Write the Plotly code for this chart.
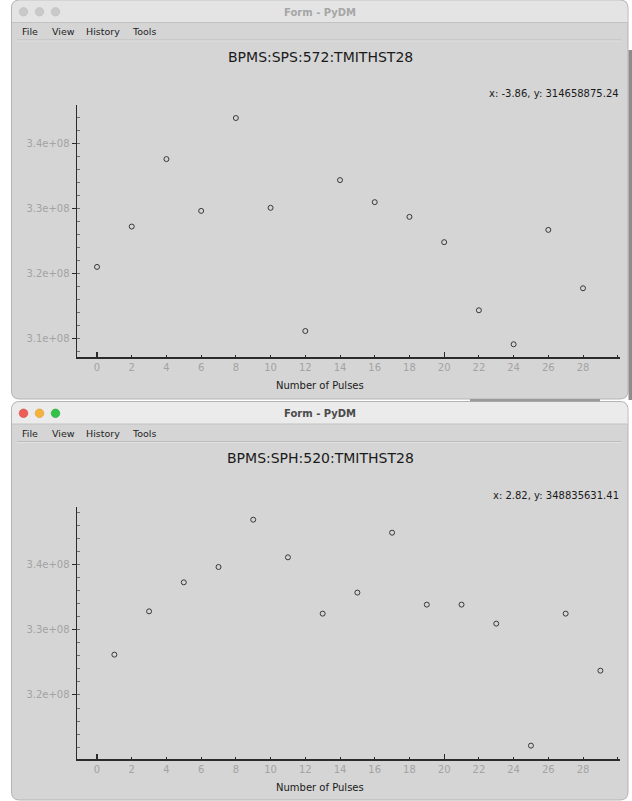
import plotly.graph_objects as go

# ---------------- data ----------------
pulses_sps = [0, 2, 4, 6, 8, 10, 12, 14, 16, 18, 20, 22, 24, 26, 28]
tmit_sps = [3.2097e8, 3.2717e8, 3.3754e8, 3.2958e8, 3.4385e8, 3.3005e8, 3.1112e8,
            3.3431e8, 3.3092e8, 3.2866e8, 3.2477e8, 3.1431e8, 3.0908e8, 3.2666e8, 3.1769e8]

pulses_sph = [1, 3, 5, 7, 9, 11, 13, 15, 17, 19, 21, 23, 25, 27, 29]
tmit_sph = [3.2617e8, 3.3280e8, 3.3724e8, 3.3959e8, 3.4683e8, 3.4107e8, 3.3245e8,
            3.3567e8, 3.4484e8, 3.3383e8, 3.3383e8, 3.3092e8, 3.1224e8, 3.3245e8, 3.2372e8]

x_tickvals = [0, 2, 4, 6, 8, 10, 12, 14, 16, 18, 20, 22, 24, 26, 28, 30]
x_ticktext = ["0", "2", "4", "6", "8", "10", "12", "14", "16", "18", "20", "22", "24", "26", "28", ""]
x_major = [0, 20]
y_tickvals_sps = [3.1e8, 3.2e8, 3.3e8, 3.4e8]
y_ticktext_sps = ["3.1e+08", "3.2e+08", "3.3e+08", "3.4e+08"]
y_tickvals_sph = [3.2e8, 3.3e8, 3.4e8]
y_ticktext_sph = ["3.2e+08", "3.3e+08", "3.4e+08"]

titles = ["BPMS:SPS:572:TMITHST28", "BPMS:SPH:520:TMITHST28"]
cursor_texts = ["x: -3.86, y: 314658875.24", "x: 2.82, y: 348835631.41"]
x_label = "Number of Pulses"
window_title = "Form - PyDM"
menu_items = ["File", "View", "History", "Tools"]

# ---------------- geometry helpers ----------------
W, H = 632, 801
FONT = "DejaVu Sans"


def px(x):
    return x / W


def py(y):
    return 1 - y / H


def rrect(x0, y0, x1, y1, r_top, r_bot):
    X0, X1 = px(x0), px(x1)
    Y0, Y1 = py(y0), py(y1)
    rxt, ryt = r_top / W, r_top / H
    rxb, ryb = r_bot / W, r_bot / H
    return (f"M {X0+rxt},{Y0} L {X1-rxt},{Y0} Q {X1},{Y0} {X1},{Y0-ryt} "
            f"L {X1},{Y1+ryb} Q {X1},{Y1} {X1-rxb},{Y1} L {X0+rxb},{Y1} "
            f"Q {X0},{Y1} {X0},{Y1+ryb} L {X0},{Y0-ryt} Q {X0},{Y0} {X0+rxt},{Y0} Z")


shapes = []
annotations = []

CONTENT = "#d5d5d5"


def window(off, active):
    top = off
    bot = off + 399 if off == 0 else 800
    shapes.append(dict(type="path", path=rrect(11.5, top, 628, bot, 8, 8), xref="paper", yref="paper",
                       fillcolor=CONTENT, line=dict(color="#b4b4b4", width=1), layer="below"))
    shapes.append(dict(type="path", path=rrect(12, top + 0.5, 627.5, top + 22.5, 8, 0), xref="paper",
                       yref="paper", fillcolor="#ebebeb" if active else "#e4e4e4",
                       line=dict(width=0), layer="below"))
    shapes.append(dict(type="line", x0=px(12), x1=px(627.5), y0=py(top + 22.5), y1=py(top + 22.5),
                       xref="paper", yref="paper", line=dict(color="#c2c2c2", width=1), layer="below"))
    shapes.append(dict(type="line", x0=px(17), x1=px(621), y0=py(top + 40), y1=py(top + 40),
                       xref="paper", yref="paper", line=dict(color="#bcbcbc", width=1), layer="below"))
    shapes.append(dict(type="line", x0=px(17), x1=px(621), y0=py(top + 41), y1=py(top + 41),
                       xref="paper", yref="paper", line=dict(color="#e2e2e2", width=1), layer="below"))
    cols = ["#ee5d56", "#f5b23c", "#33c248"] if active else ["#c9c9c9", "#c9c9c9", "#c9c9c9"]
    edges = ["#d04a43", "#d9982c", "#27a33a"] if active else ["#bdbdbd", "#bdbdbd", "#bdbdbd"]
    for cx, c, e in zip([23.5, 39.5, 55.5], cols, edges):
        shapes.append(dict(type="circle", xref="paper", yref="paper",
                           x0=px(cx - 4.3), x1=px(cx + 4.3), y0=py(top + 11.8 + 4.3), y1=py(top + 11.8 - 4.3),
                           fillcolor=c, line=dict(color=e, width=0.6), layer="below"))
    annotations.append(dict(text=window_title, x=px(320), y=py(top + 12), xref="paper", yref="paper",
                            showarrow=False, xanchor="center", yanchor="middle",
                            font=dict(family=FONT, size=10, color="#4a4a4a" if active else "#a6a6a6",
                                      weight="bold")))
    for item, mx in zip(menu_items, [19.5, 50, 83.5, 130]):
        annotations.append(dict(text=item, x=px(mx), y=py(top + 31.5), xref="paper", yref="paper",
                                showarrow=False, xanchor="left", yanchor="middle",
                                font=dict(family=FONT, size=9.5, color="#1e1e1e")))


window(0, False)
window(401.5, True)

shapes.append(dict(type="rect", xref="paper", yref="paper", x0=px(628.5), x1=px(632), y0=py(50), y1=py(400),
                   fillcolor="#8c8c8c", line=dict(width=0), layer="below"))
shapes.append(dict(type="rect", xref="paper", yref="paper", x0=px(470), x1=px(600), y0=py(399), y1=py(401.5),
                   fillcolor="#9a9a9a", line=dict(width=0), layer="below"))

for off, title, ctext in zip([0, 401.5], titles, cursor_texts):
    annotations.append(dict(text=title, x=px(320), y=py(off + 56.5), xref="paper", yref="paper",
                            showarrow=False, xanchor="center", yanchor="middle",
                            font=dict(family=FONT, size=14, color="#1a1a1a")))
    annotations.append(dict(text=ctext, x=px(621), y=py(off + 94), xref="paper", yref="paper",
                            showarrow=False, xanchor="right", yanchor="middle",
                            font=dict(family=FONT, size=10, color="#1a1a1a")))
    annotations.append(dict(text=x_label, x=px(320), y=py(off + 385.7), xref="paper", yref="paper",
                            showarrow=False, xanchor="center", yanchor="middle",
                            font=dict(family=FONT, size=10, color="#1a1a1a")))

marker = dict(symbol="circle-open", size=5, color="#383838", line=dict(width=1, color="#383838"))
fig = go.Figure()
fig.add_trace(go.Scatter(x=pulses_sps, y=tmit_sps, mode="markers", marker=marker,
                         xaxis="x", yaxis="y", showlegend=False, hoverinfo="skip"))
fig.add_trace(go.Scatter(x=pulses_sph, y=tmit_sph, mode="markers", marker=marker,
                         xaxis="x2", yaxis="y2", showlegend=False, hoverinfo="skip"))
fig.add_trace(go.Scatter(x=[None], y=[None], xaxis="x3", yaxis="y", showlegend=False, hoverinfo="skip"))
fig.add_trace(go.Scatter(x=[None], y=[None], xaxis="x4", yaxis="y2", showlegend=False, hoverinfo="skip"))

XDOM = [px(77.3), px(620)]
XR = [-1.135, 30.13]
AXC = "#2b2b2b"
TICKF = dict(family=FONT, size=10, color="#a3a3a3")

xcommon = dict(domain=XDOM, range=XR, showline=True, linecolor=AXC, linewidth=1.2, ticks="inside",
               ticklen=2.5, tickwidth=1, tickcolor=AXC, tickmode="array", tickvals=x_tickvals,
               ticktext=x_ticktext, tickfont=TICKF, showgrid=False, zeroline=False, fixedrange=True)
xmajor = dict(domain=XDOM, range=XR, showline=False, ticks="inside", ticklen=5, tickwidth=1.2,
              tickcolor=AXC, tickmode="array", tickvals=x_major, showticklabels=False,
              showgrid=False, zeroline=False)


def ycommon(dom, rng, tv, tt):
    return dict(domain=dom, range=rng, showline=True, linecolor=AXC, linewidth=1.2, ticks="outside",
                ticklen=4.5, tickwidth=1, tickcolor=AXC, tickmode="array", tickvals=tv, ticktext=tt,
                tickfont=TICKF, showgrid=False, zeroline=False,
                minor=dict(ticks="inside", ticklen=3, tickcolor="#555555", tickwidth=0.8,
                           tick0=3.0e8, dtick=2e6, showgrid=False))


fig.update_layout(
    width=W, height=H, margin=dict(l=0, r=0, t=0, b=0, pad=0),
    paper_bgcolor="white", plot_bgcolor="rgba(0,0,0,0)",
    xaxis=dict(anchor="y", **xcommon),
    yaxis=dict(anchor="x", **ycommon([py(357.3), py(105)], [3.0708e8, 3.4585e8], y_tickvals_sps, y_ticktext_sps)),
    xaxis2=dict(anchor="y2", **xcommon),
    yaxis2=dict(anchor="x2", **ycommon([py(759.3), py(506.7)], [3.1015e8, 3.4882e8], y_tickvals_sph, y_ticktext_sph)),
    xaxis3=dict(anchor="y", overlaying="x", **xmajor),
    xaxis4=dict(anchor="y2", overlaying="x2", **xmajor),
    shapes=shapes, annotations=annotations, showlegend=False,
)

fig.write_html("out.html", config={"displayModeBar": False, "staticPlot": True},
               post_script="document.body.style.margin='0';document.body.style.overflow='hidden';")
